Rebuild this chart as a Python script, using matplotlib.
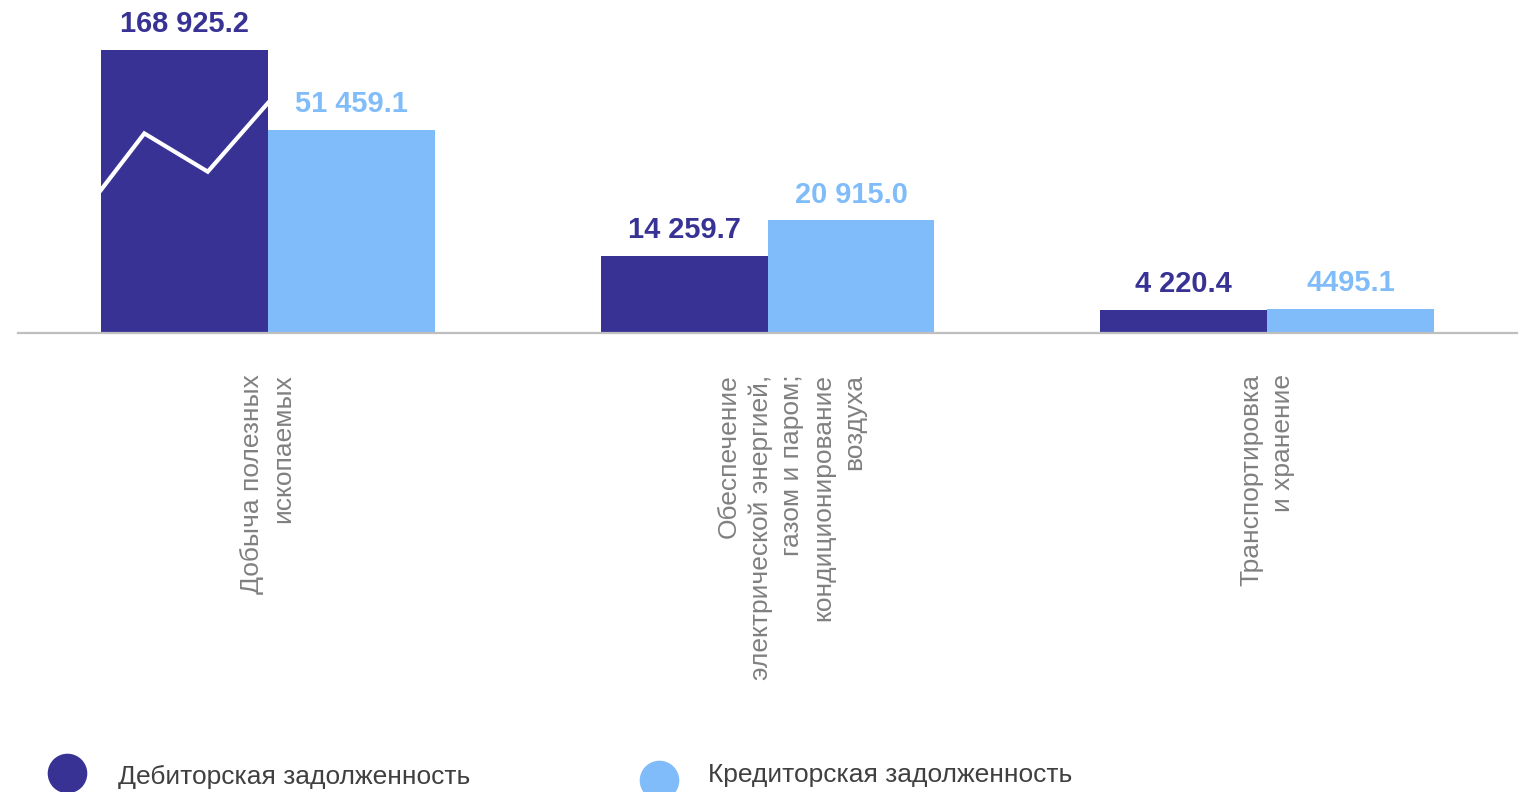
import numpy as np
import matplotlib
matplotlib.use('Agg')
import matplotlib.pyplot as plt
from matplotlib.lines import Line2D
import matplotlib.transforms as mtransforms

plt.rcParams['font.family'] = ['Liberation Sans', 'DejaVu Sans']

# данные
categories = ['Добыча полезных\nископаемых',
              'Обеспечение\nэлектрической энергией,\nгазом и паром;\nкондиционирование\nвоздуха',
              'Транспортировка\nи хранение']
debit = [168925.2, 14259.7, 4220.4]
credit = [51459.1, 20915.0, 4495.1]
debit_labels = ['168 925.2', '14 259.7', '4 220.4']
credit_labels = ['51 459.1', '20 915.0', '4495.1']
series_names = ['Дебиторская задолженность', 'Кредиторская задолженность']

c_dark = '#373294'
c_light = '#80BCFA'

# ось "с разрывом": линейно до T, дальше логарифмически сжато
T, A = 31500.0, 12560.0


def fwd(v):
    v = np.asarray(v, dtype=float)
    return np.where(v <= T, v, T + A * np.log(np.maximum(v, T) / T))


def inv(t):
    t = np.asarray(t, dtype=float)
    return np.where(t <= T, t, T * np.exp(np.clip((np.maximum(t, T) - T) / A, 0, 50)))


fig = plt.figure(figsize=(15.25, 7.92), dpi=100)
ax = fig.add_axes([18 / 1525, (792 - 332.7) / 792, 1499 / 1525, 332.7 / 792])
ax.set_yscale('function', functions=(fwd, inv))

x = np.arange(len(categories))
w = 0.334
b1 = ax.bar(x - w / 2, debit, w, color=c_dark, zorder=2)
b2 = ax.bar(x + w / 2, credit, w, color=c_light, zorder=2)

ax.set_xlim(-0.5, 2.5)
ax.set_ylim(0, float(inv(61840)))

for rect, lab in zip(b1, debit_labels):
    ax.annotate(lab, (rect.get_x() + rect.get_width() / 2, rect.get_height()),
                xytext=(0, 12.7), textcoords='offset points', ha='center', va='baseline',
                fontsize=20.9, fontweight='bold', color=c_dark)
for rect, lab in zip(b2, credit_labels):
    ax.annotate(lab, (rect.get_x() + rect.get_width() / 2, rect.get_height()),
                xytext=(0, 12.7), textcoords='offset points', ha='center', va='baseline',
                fontsize=20.9, fontweight='bold', color=c_light)

# белая ломаная - знак разрыва на первом столбце
r0 = b1[0]
x0, x1 = r0.get_x(), r0.get_x() + r0.get_width()
trans = mtransforms.blended_transform_factory(ax.transData, ax.transAxes)
zx = [x0, x0 + 0.26 * (x1 - x0), x0 + 0.64 * (x1 - x0), x1]
zy = [0.429, 0.599, 0.484, 0.690]
ax.plot(zx, zy, color='white', lw=3, transform=trans, zorder=3, solid_joinstyle='miter')

for s in ['top', 'right', 'left']:
    ax.spines[s].set_visible(False)
ax.spines['bottom'].set_color('#BFBFBF')
ax.spines['bottom'].set_linewidth(1.6)
ax.set_yticks([])
ax.set_xticks(x)
ax.set_xticklabels(categories, rotation=90, ha='center', va='top', multialignment='right',
                   fontsize=19, color='#808080', linespacing=1.37)
ax.tick_params(axis='x', length=0, pad=30)
ax.yaxis.set_minor_locator(matplotlib.ticker.NullLocator())

# средняя подпись в оригинале немного смещена вправо
lbl = ax.get_xticklabels()[1]
lbl.set_transform(lbl.get_transform() + mtransforms.ScaledTranslation(24 / 100, 0, fig.dpi_scale_trans))

# легенда
fig.add_artist(Line2D([67 / 1525], [1 - 773 / 792], marker='o', markersize=27.5,
                      color=c_dark, linestyle='none', transform=fig.transFigure))
fig.add_artist(Line2D([659 / 1525], [1 - 780 / 792], marker='o', markersize=27.5,
                      color=c_light, linestyle='none', transform=fig.transFigure))
fig.text(118 / 1525, 1 - 777 / 792, series_names[0], fontsize=19, color='#404040', va='center')
fig.text(708 / 1525, 1 - 775 / 792, series_names[1], fontsize=19, color='#404040', va='center')

fig.savefig('out.png', dpi=100)
